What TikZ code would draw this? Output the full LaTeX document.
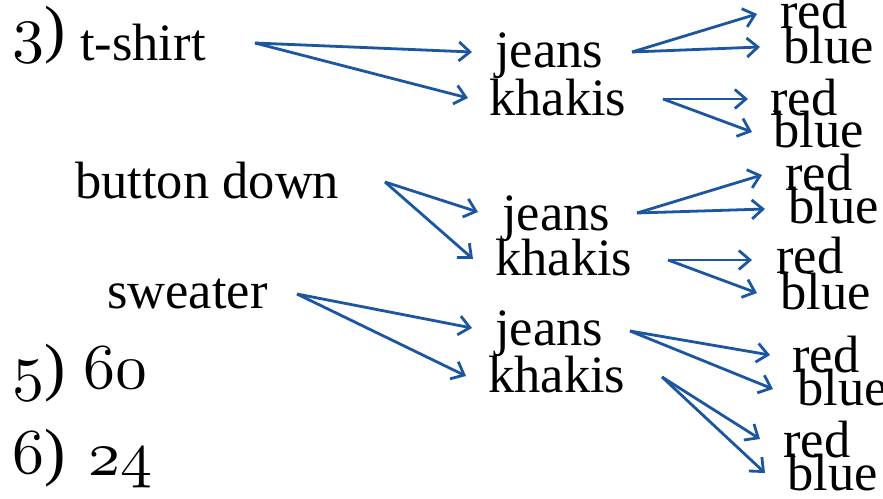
\documentclass[tikz,border=0pt]{standalone}
\usepackage{fontspec}
\setmainfont{Liberation Serif}
\usetikzlibrary{arrows.meta}
\definecolor{arrowblue}{RGB}{28,86,160}
\newcommand{\osn}[1]{$\mathnormal{#1}$}
\tikzset{
  lbl/.style={anchor=base west, inner sep=0pt, font=\fontsize{52.5}{52.5}\selectfont},
  numlbl/.style={anchor=base west, inner sep=0pt, font=\fontsize{10}{10}\selectfont, scale=6.4, transform shape},
  arr/.style={draw=arrowblue, line width=2.8pt, -{Straight Barb[length=11pt,width=19pt,line width=2.8pt]}}
}
\begin{document}
\begin{tikzpicture}[x=1pt,y=-1pt]
\useasboundingbox[fill=white] (0,0) rectangle (883,498);
% numbers
\node[numlbl] (n3) at (11,50) {\osn{3})};
\node[numlbl] (n5) at (11,388) {\osn{5})};
\node[numlbl] (v60) at (82,388) {\osn{60}};
\node[numlbl] (n6) at (11,473) {\osn{6})};
\node[numlbl] (v24) at (87,475) {\osn{24}};
% first level
\node[lbl] (tshirt) at (80,60) {t-shirt};
\node[lbl] (button) at (75,198) {button down};
\node[lbl] (sweater) at (107,308) {sweater};
% second level
\node[lbl] (jeansA) at (495,67) {jeans};
\node[lbl] (khakisA) at (489,115) {khakis};
\node[lbl] (jeansB) at (502,230) {jeans};
\node[lbl] (khakisB) at (495,275) {khakis};
\node[lbl] (jeansC) at (495,345) {jeans};
\node[lbl] (khakisC) at (488,392) {khakis};
% third level
\node[lbl] (redA) at (780,28) {red};
\node[lbl] (blueA) at (783,63) {blue};
\node[lbl] (redB) at (770,115) {red};
\node[lbl] (blueB) at (773,147) {blue};
\node[lbl] (redC) at (785,190) {red};
\node[lbl] (blueC) at (788,223) {blue};
\node[lbl] (redD) at (776,273) {red};
\node[lbl] (blueD) at (780,309) {blue};
\node[lbl] (redE) at (792,372) {red};
\node[lbl] (blueE) at (797,405) {blue};
\node[lbl] (redF) at (783,457) {red};
\node[lbl] (blueF) at (787,490) {blue};
% connector end points
\coordinate (tshirtOut) at (255,43);
\coordinate (jeansAin) at (472,52);
\coordinate (khakisAin) at (468,98);
\coordinate (jeansAout) at (632,52);
\coordinate (redAin) at (757,14);
\coordinate (blueAin) at (760,47);
\coordinate (khakisAout) at (663,99);
\coordinate (redBin) at (748,99);
\coordinate (blueBin) at (752,132);
\coordinate (buttonOut) at (385,182);
\coordinate (jeansBin) at (478,212);
\coordinate (khakisBin) at (473,259);
\coordinate (jeansBout) at (637,213);
\coordinate (redCin) at (762,175);
\coordinate (blueCin) at (765,209);
\coordinate (khakisBout) at (668,260);
\coordinate (redDin) at (752,260);
\coordinate (blueDin) at (757,293);
\coordinate (sweaterOut) at (297,294);
\coordinate (jeansCin) at (472,328);
\coordinate (khakisCin) at (466,376);
\coordinate (jeansCout) at (630,331);
\coordinate (redEin) at (770,355);
\coordinate (blueEin) at (773,389);
\coordinate (khakisCout) at (662,377);
\coordinate (redFin) at (760,439);
\coordinate (blueFin) at (765,473);
% connectors
\draw[arr] (tshirtOut) -- (jeansAin);
\draw[arr] (tshirtOut) -- (khakisAin);
\draw[arr] (jeansAout) -- (redAin);
\draw[arr] (jeansAout) -- (blueAin);
\draw[arr] (khakisAout) -- (redBin);
\draw[arr] (khakisAout) -- (blueBin);
\draw[arr] (buttonOut) -- (jeansBin);
\draw[arr] (buttonOut) -- (khakisBin);
\draw[arr] (jeansBout) -- (redCin);
\draw[arr] (jeansBout) -- (blueCin);
\draw[arr] (khakisBout) -- (redDin);
\draw[arr] (khakisBout) -- (blueDin);
\draw[arr] (sweaterOut) -- (jeansCin);
\draw[arr] (sweaterOut) -- (khakisCin);
\draw[arr] (jeansCout) -- (redEin);
\draw[arr] (jeansCout) -- (blueEin);
\draw[arr] (khakisCout) -- (redFin);
\draw[arr] (khakisCout) -- (blueFin);
\end{tikzpicture}
\end{document}
